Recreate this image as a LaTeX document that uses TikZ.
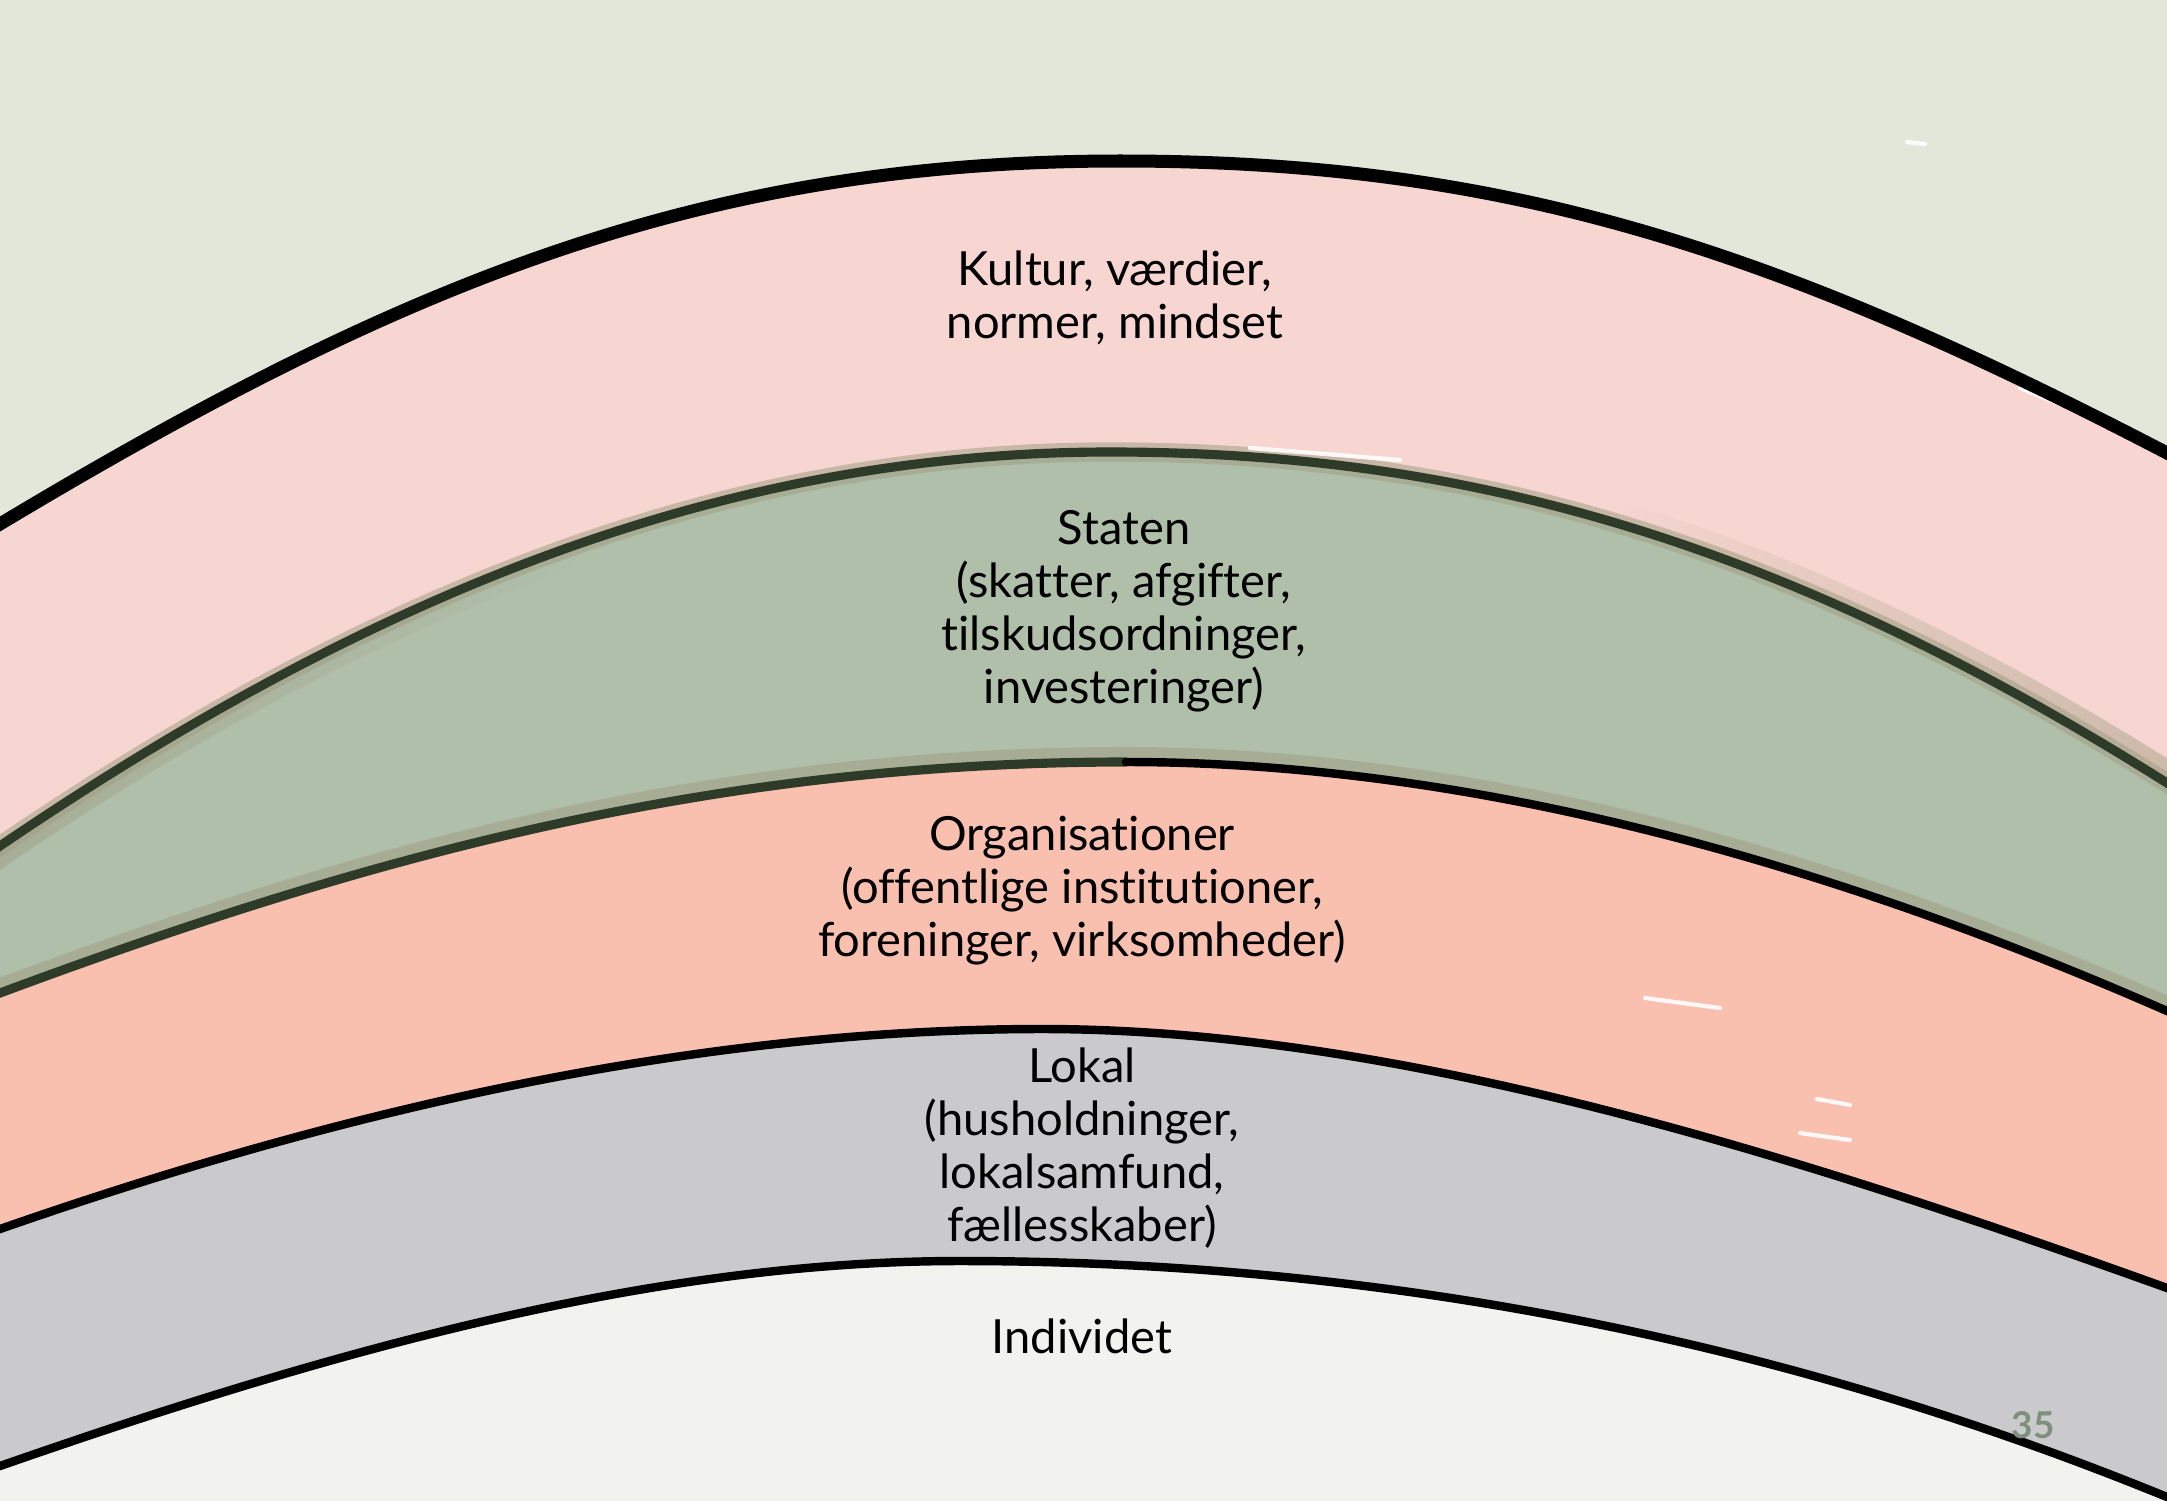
\documentclass[tikz,border=0pt]{standalone}
\usepackage{fontspec}
\setmainfont{Lato}[Ligatures=NoCommon]
\usetikzlibrary{fadings}
\definecolor{bgtop}{HTML}{E2E7DA}
\definecolor{kultur}{HTML}{F7D6D1}
\definecolor{staten}{HTML}{AFBFAA}
\definecolor{orgs}{HTML}{F9BFAF}
\definecolor{lokal}{HTML}{CACACC}
\definecolor{indiv}{HTML}{F2F3EE}
\definecolor{darkgreen}{HTML}{2E3B28}
\definecolor{brush}{HTML}{A29E84}
\definecolor{pagenum}{HTML}{7E8F7C}
\tikzfading[name=fadetoright, left color=transparent!0, right color=transparent!100]
\tikzfading[name=fadetoleft, left color=transparent!100, right color=transparent!0]
\tikzset{
  lbl/.style={align=center, text=black, font=\fontsize{13.4}{15.1}\selectfont, inner sep=0pt},
  blackline/.style={draw=black, line width=3.7pt, line cap=round},
  greenline/.style={draw=darkgreen, line width=2.6pt, line cap=round},
  thinline/.style={draw=black, line width=2.4pt, line cap=round},
  brushline/.style={draw=brush, opacity=0.55, line width=5.5pt},
  streak/.style={draw=white, line width=1.2pt, line cap=round, opacity=0.9},
}
\begin{document}
\begin{tikzpicture}[x=0.1mm, y=-0.1mm]
\useasboundingbox (0,0) rectangle (2167,1500);
\clip (0,0) rectangle (2167,1500);
\def\pA{(-40,548) -- (0,524) .. controls (400,284) and (700,161) .. (1120,161) .. controls (1500,161) and (1767,245) .. (2167,453) -- (2210,475)}
\def\pB{(-40,873) -- (0,846) .. controls (400,574) and (750,452) .. (1110,452) .. controls (1450,452) and (1767,531) .. (2167,783) -- (2210,810)}
\def\pC{(-40,1008) -- (0,993) .. controls (350,863) and (700,762) .. (1126,762) .. controls (1450,762) and (1800,850) .. (2167,1011) -- (2210,1030)}
\def\pD{(-40,1243) -- (0,1229) .. controls (350,1107) and (700,1029) .. (1042,1029) .. controls (1400,1029) and (1800,1156) .. (2167,1288) -- (2210,1303)}
\def\pE{(-40,1480) -- (0,1466) .. controls (330,1351) and (650,1261) .. (960,1261) .. controls (1400,1261) and (1800,1347) .. (2167,1497) -- (2210,1515)}
% background
\fill[bgtop] (0,0) rectangle (2167,1500);
% bands
\fill[kultur] \pA -- (2210,1600) -- (-40,1600) -- cycle;
\fill[staten] \pB -- (2210,1600) -- (-40,1600) -- cycle;
\draw[brushline] \pB;
\draw[brushline, line width=7pt, yshift=-0.9mm, path fading=fadetoright]
  (-40,873) -- (0,846) .. controls (200,710) and (387.5,611.5) .. (570,547);
\draw[brushline, line width=7pt, yshift=1mm, path fading=fadetoleft]
  (1616,523) .. controls (1787.75,574.25) and (1967,657) .. (2167,783) -- (2210,810);
\draw[brushline, line width=4pt] (-40,1000) -- (0,985) .. controls (350,855) and (700,754) .. (1126,754) .. controls (1450,754) and (1800,842) .. (2167,1003) -- (2210,1022);
\fill[orgs] \pC -- (2210,1600) -- (-40,1600) -- cycle;
\fill[lokal] \pD -- (2210,1600) -- (-40,1600) -- cycle;
\fill[indiv] \pE -- (2210,1600) -- (-40,1600) -- cycle;
% white streaks of the brush
\draw[streak] (1907,142) -- (1925,144);
\draw[streak] (1645,998) -- (1720,1008);
\draw[streak] (1817,1099) -- (1850,1105);
\draw[streak] (1800,1133) -- (1850,1140);
\draw[streak] (2020,388) -- (2075,410);
\draw[streak] (1250,448) -- (1400,460);
% outlines
\draw[blackline] \pA;
\draw[greenline] \pB;
\draw[greenline] (-40,1008) -- (0,993) .. controls (350,863) and (700,762) .. (1126,762);
\draw[thinline] (1126,762) .. controls (1450,762) and (1800,850) .. (2167,1011) -- (2210,1030);
\draw[thinline] \pD;
\draw[thinline] \pE;
% labels
\node[lbl] (kultur) at (1115,298) {Kultur, værdier,\\normer, mindset};
\node[lbl] (staten) at (1124,611) {Staten\\(skatter, afgifter,\\tilskudsordninger,\\investeringer)};
\node[lbl] (orgs) at (1082,891) {Organisationer\\(offentlige institutioner,\\foreninger, virksomheder)};
\node[lbl] (lokal) at (1082,1148) {Lokal\\(husholdninger,\\lokalsamfund,\\fællesskaber)};
\node[lbl] (indiv) at (1082,1336) {Individet};
\node[text=pagenum, font=\bfseries\fontsize{10.5}{11}\selectfont, inner sep=0pt] (page) at (2033,1425) {35};
\end{tikzpicture}
\end{document}
